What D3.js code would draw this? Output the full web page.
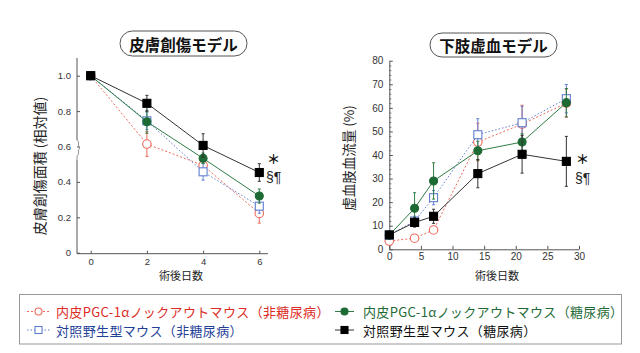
<!DOCTYPE html>
<html><head><meta charset="utf-8">
<script src="https://cdn.jsdelivr.net/npm/d3@7"></script>
<style>
html,body{margin:0;padding:0;background:#fff;}
svg{display:block;}
</style></head>
<body>
<svg id="c" width="640" height="353"></svg>
<script>
// ---------- DATA ----------
const woundDays = [0, 2, 4, 6];
const woundTicksY = [0, 0.2, 0.4, 0.6, 0.8, 1.0];
const woundTickLabelsY = ["0", "0.2", "0.4", "0.6", "0.8", "1.0"];
const woundTicksX = [0, 2, 4, 6];
const woundKO_ND = [1.0, 0.614, 0.493, 0.222];
const woundKO_ND_err = [0, 0.07, 0.04, 0.055];
const woundWT_ND = [1.0, 0.745, 0.457, 0.263];
const woundWT_ND_err = [0, 0.05, 0.047, 0.04];
const woundKO_D = [1.0, 0.74, 0.533, 0.32];
const woundKO_D_err = [0, 0.065, 0.03, 0.04];
const woundWT_D = [1.0, 0.844, 0.606, 0.453];
const woundWT_D_err = [0, 0.045, 0.066, 0.05];

const limbDays = [0, 4, 7, 14, 21, 28];
const limbTicksY = [0, 10, 20, 30, 40, 50, 60, 70, 80];
const limbTicksX = [0, 5, 10, 15, 20, 25, 30];
const limbKO_ND = [3.5, 4.7, 8.2, 45.5, 53.1, 62.0];
const limbKO_ND_err = [0, 1, 1.5, 8, 8, 6];
const limbWT_ND = [6.0, 12.0, 21.9, 48.6, 53.7, 63.9];
const limbWT_ND_err = [0, 2, 3, 6.8, 7, 6];
const limbKO_D = [6.0, 17.4, 29.0, 41.8, 45.5, 62.2];
const limbKO_D_err = [0, 6.6, 7.7, 4, 3.5, 6];
const limbWT_D = [6.1, 11.4, 14.0, 32.1, 40.3, 37.3];
const limbWT_D_err = [0, 2, 3, 6, 8, 10.6];

const legendLabels = [
  "内皮PGC-1αノックアウトマウス（非糖尿病）",
  "対照野生型マウス（非糖尿病）",
  "内皮PGC-1αノックアウトマウス（糖尿病）",
  "対照野生型マウス（糖尿病）"
];
const titles = ["皮膚創傷モデル", "下肢虚血モデル"];
const yLabels = ["皮膚創傷面積 (相対値)", "虚血肢血流量 (%)"];
const xLabel = "術後日数";

// ---------- STYLES ----------
const JP = "'Noto Sans CJK JP','Noto Sans',sans-serif";
const NUM = "'Liberation Sans',Arial,sans-serif";
const styles = {
  KO_ND: {line: "#ee6a5c", dash: "2,2", marker: "circle", fill: "#fff", stroke: "#ee6a5c", text: "#dd2b25"},
  WT_ND: {line: "#5f7fd0", dash: "1.5,2", marker: "square", fill: "#fff", stroke: "#5f7fd0", text: "#1f3f98"},
  KO_D:  {line: "#2f7d45", dash: null, marker: "circle", fill: "#1d6a34", stroke: "#1d6a34", text: "#1e6a36"},
  WT_D:  {line: "#333", dash: null, marker: "square", fill: "#000", stroke: "#000", text: "#111"}
};

const svg = d3.select("#c");

function drawMarker(g, type, x, y, st, size) {
  if (type === "circle") {
    g.append("circle").attr("cx", x).attr("cy", y).attr("r", size / 2)
      .attr("fill", st.fill).attr("stroke", st.stroke).attr("stroke-width", 1.1);
  } else {
    g.append("rect").attr("x", x - size / 2).attr("y", y - size / 2)
      .attr("width", size).attr("height", size)
      .attr("fill", st.fill).attr("stroke", st.stroke).attr("stroke-width", 1.1);
  }
}

function drawSeries(g, xs, ys, errs, sx, sy, st, msize) {
  const line = d3.line().x((d, i) => sx(xs[i])).y(d => sy(d));
  const p = g.append("path").datum(ys).attr("d", line).attr("fill", "none")
    .attr("stroke", st.line).attr("stroke-width", 1);
  if (st.dash) p.attr("stroke-dasharray", st.dash);
  ys.forEach((v, i) => {
    if (errs[i] > 0) {
      const x = sx(xs[i]);
      g.append("line").attr("x1", x).attr("x2", x).attr("y1", sy(v - errs[i])).attr("y2", sy(v + errs[i]))
        .attr("stroke", st.line).attr("stroke-width", 1);
      [v - errs[i], v + errs[i]].forEach(e => {
        g.append("line").attr("x1", x - 1.5).attr("x2", x + 1.5).attr("y1", sy(e)).attr("y2", sy(e))
          .attr("stroke", st.line).attr("stroke-width", 1);
      });
    }
  });
  ys.forEach((v, i) => drawMarker(g, st.marker, sx(xs[i]), sy(v), st, msize));
}

function titleBox(cx, cy, w, h, text) {
  svg.append("rect").attr("x", cx - w / 2).attr("y", cy - h / 2).attr("width", w).attr("height", h)
    .attr("rx", h / 2).attr("ry", h / 2).attr("fill", "#fff").attr("stroke", "#555").attr("stroke-width", 1);
  svg.append("text").attr("x", cx).attr("y", cy).attr("text-anchor", "middle").attr("dominant-baseline", "central")
    .attr("font-family", JP).attr("font-size", 15.5).attr("font-weight", "bold").attr("fill", "#111").text(text);
}

function marks(g, x, yStar, ySec) {
  g.append("text").attr("x", x + 1).attr("y", yStar).attr("dominant-baseline", "central")
    .attr("font-family", JP).attr("font-size", 13).attr("font-weight", "bold").attr("fill", "#111").text("＊");
  g.append("text").attr("x", x).attr("y", ySec).attr("dominant-baseline", "central")
    .attr("font-family", NUM).attr("font-size", 14).attr("fill", "#222").text("§¶");
}

// ---------- LEFT: wound ----------
{
  const sx = d3.scaleLinear().domain([0, 6]).range([90.7, 259.3]);
  const sy = d3.scaleLinear().domain([0, 1]).range([252.7, 75.7]);
  const g = svg.append("g");
  const axisX = 77, axisY = 253.7;
  const yAx = d3.axisLeft(sy).tickValues(woundTicksY).tickFormat((d, i) => woundTickLabelsY[i])
    .tickSizeInner(-3).tickSizeOuter(0).tickPadding(6);
  const ya = g.append("g").attr("transform", `translate(${axisX},0)`).call(yAx);
  ya.select(".domain").remove();
  ya.selectAll(".tick line").attr("stroke", "#555");
  ya.selectAll("text").attr("font-family", NUM).attr("font-size", 9.5).attr("fill", "#333");
  // y axis line with break near 0.6
  g.append("line").attr("x1", axisX).attr("x2", axisX).attr("y1", 58).attr("y2", 140).attr("stroke", "#555");
  g.append("line").attr("x1", axisX).attr("x2", axisX).attr("y1", 160).attr("y2", axisY).attr("stroke", "#555");
  g.append("path").attr("d", `M${axisX},140 q2,1 1.5,4 q-0.5,3 1.5,4 q-2,1 -1.5,4 q0.5,3 -1.5,4 L${axisX},160`)
    .attr("fill", "none").attr("stroke", "#888").attr("stroke-width", 0.9);
  const xAx = d3.axisBottom(sx).tickValues(woundTicksX).tickFormat(d3.format("d"))
    .tickSizeInner(-3).tickSizeOuter(0).tickPadding(5);
  const xa = g.append("g").attr("transform", `translate(0,${axisY})`).call(xAx);
  xa.select(".domain").remove();
  xa.selectAll(".tick line").attr("stroke", "#555");
  xa.selectAll("text").attr("font-family", NUM).attr("font-size", 9.5).attr("fill", "#333");
  g.append("line").attr("x1", axisX).attr("x2", 268).attr("y1", axisY).attr("y2", axisY).attr("stroke", "#555");

  drawSeries(g, woundDays, woundKO_ND, woundKO_ND_err, sx, sy, styles.KO_ND, 8.5);
  drawSeries(g, woundDays, woundWT_ND, woundWT_ND_err, sx, sy, styles.WT_ND, 8);
  drawSeries(g, woundDays, woundKO_D, woundKO_D_err, sx, sy, styles.KO_D, 8);
  drawSeries(g, woundDays, woundWT_D, woundWT_D_err, sx, sy, styles.WT_D, 8);

  marks(g, 266, 158, 177);

  g.append("text").attr("transform", `translate(39,166) rotate(-90)`).attr("text-anchor", "middle")
    .attr("dominant-baseline", "central").attr("font-family", JP).attr("font-size", 14).attr("fill", "#222").text(yLabels[0]);
  g.append("text").attr("x", 181).attr("y", 275).attr("text-anchor", "middle").attr("dominant-baseline", "central")
    .attr("font-family", JP).attr("font-size", 11).attr("fill", "#222").text(xLabel);
  titleBox(183.5, 43.5, 127, 25, titles[0]);
}

// ---------- RIGHT: limb ischemia ----------
{
  const sx = d3.scaleLinear().domain([0, 30]).range([389.3, 579]);
  const sy = d3.scaleLinear().domain([0, 80]).range([249.3, 60.7]);
  const g = svg.append("g");
  const axisX = 389.3, axisY = 249.3;
  const yMinor = d3.range(0, 81, 2).filter(v => v % 10 !== 0);
  const ym = g.append("g").attr("transform", `translate(${axisX},0)`)
    .call(d3.axisLeft(sy).tickValues(yMinor).tickSizeInner(-2).tickSizeOuter(0).tickFormat(""));
  ym.select(".domain").remove();
  ym.selectAll(".tick line").attr("stroke", "#777");
  const ya = g.append("g").attr("transform", `translate(${axisX},0)`)
    .call(d3.axisLeft(sy).tickValues(limbTicksY).tickSizeInner(-3.5).tickSizeOuter(0).tickPadding(6));
  ya.select(".domain").attr("stroke", "#555");
  ya.selectAll(".tick line").attr("stroke", "#555");
  ya.selectAll("text").attr("font-family", NUM).attr("font-size", 10).attr("fill", "#333");
  const xa = g.append("g").attr("transform", `translate(0,${axisY})`)
    .call(d3.axisBottom(sx).tickValues(limbTicksX).tickSizeInner(-3.5).tickSizeOuter(0).tickPadding(4));
  xa.select(".domain").attr("stroke", "#555");
  xa.selectAll(".tick line").attr("stroke", "#555");
  xa.selectAll("text").attr("font-family", NUM).attr("font-size", 10).attr("fill", "#333");

  drawSeries(g, limbDays, limbKO_ND, limbKO_ND_err, sx, sy, styles.KO_ND, 8.5);
  drawSeries(g, limbDays, limbWT_ND, limbWT_ND_err, sx, sy, styles.WT_ND, 8);
  drawSeries(g, limbDays, limbKO_D, limbKO_D_err, sx, sy, styles.KO_D, 8);
  drawSeries(g, limbDays, limbWT_D, limbWT_D_err, sx, sy, styles.WT_D, 8);

  marks(g, 575, 158.5, 177.5);

  g.append("text").attr("transform", `translate(348,158) rotate(-90)`).attr("text-anchor", "middle")
    .attr("dominant-baseline", "central").attr("font-family", JP).attr("font-size", 13.5).attr("fill", "#222").text(yLabels[1]);
  g.append("text").attr("x", 497).attr("y", 275).attr("text-anchor", "middle").attr("dominant-baseline", "central")
    .attr("font-family", JP).attr("font-size", 11).attr("fill", "#222").text(xLabel);
  titleBox(493.5, 45, 127, 24, titles[1]);
}

// ---------- LEGEND ----------
{
  const g = svg.append("g");
  g.append("rect").attr("x", 19.5).attr("y", 294.5).attr("width", 602).attr("height", 49.5)
    .attr("fill", "#fff").attr("stroke", "#999").attr("stroke-width", 1);
  const keys = ["KO_ND", "WT_ND", "KO_D", "WT_D"];
  const pos = [
    {x0: 27, x1: 50, tx: 56, y: 311.5},
    {x0: 27, x1: 50, tx: 56, y: 330},
    {x0: 335, x1: 354, tx: 363, y: 311.5},
    {x0: 335, x1: 354, tx: 363, y: 330}
  ];
  keys.forEach((k, i) => {
    const st = styles[k], p = pos[i];
    const l = g.append("line").attr("x1", p.x0).attr("x2", p.x1).attr("y1", p.y).attr("y2", p.y)
      .attr("stroke", st.line).attr("stroke-width", 1);
    if (st.dash) l.attr("stroke-dasharray", st.dash);
    drawMarker(g, st.marker, (p.x0 + p.x1) / 2, p.y, st, 7);
    g.append("text").attr("x", p.tx).attr("y", p.y).attr("dominant-baseline", "central")
      .attr("font-family", JP).attr("font-size", 13).attr("letter-spacing", 0.35).attr("fill", st.text).text(legendLabels[i]);
  });
}
</script>
</body></html>
